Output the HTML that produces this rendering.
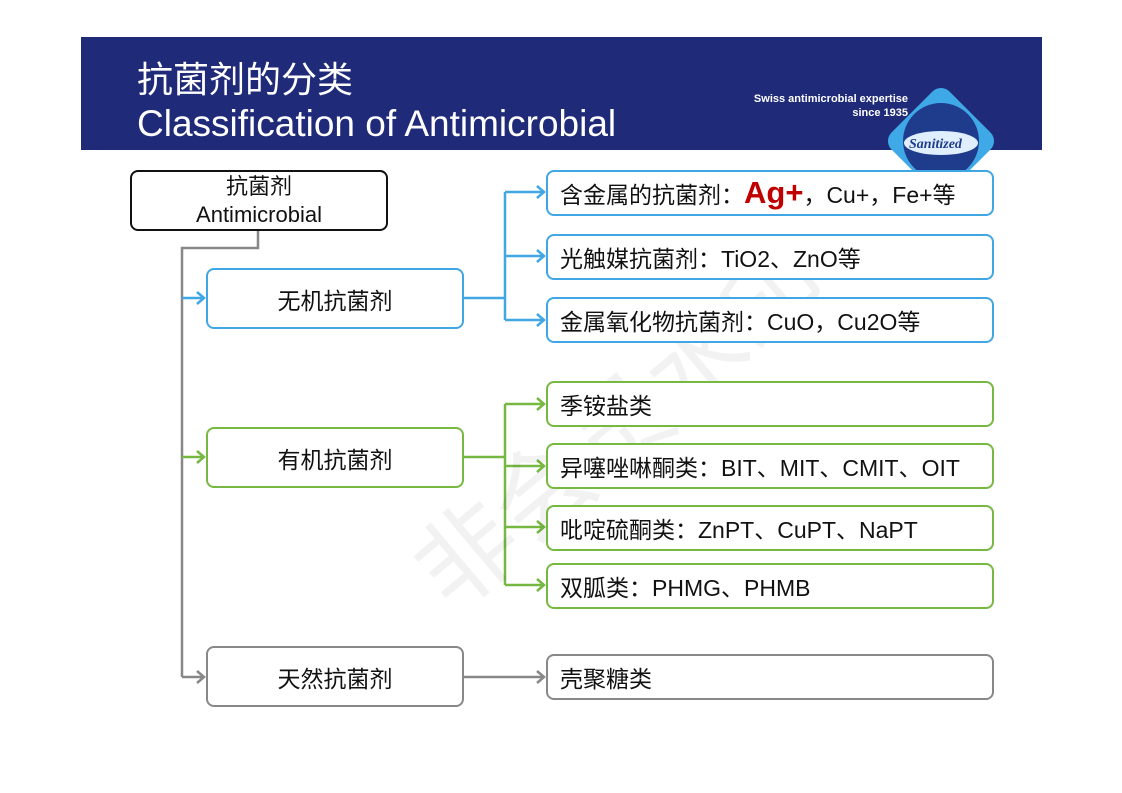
<!DOCTYPE html>
<html><head><meta charset="utf-8"><style>
body{margin:0;width:1122px;height:793px;background:#fff;position:relative;overflow:hidden;font-family:"Liberation Sans","Noto Sans CJK SC",sans-serif;}
.hdr{position:absolute;left:81px;top:37px;width:961px;height:113px;background:#1f2a78;}
.t1{position:absolute;left:137px;top:58px;color:#fff;font-size:36px;line-height:44px;}
.t2{position:absolute;left:137px;top:102px;color:#fff;font-size:37px;line-height:44px;}
.sw{position:absolute;left:700px;top:92px;color:#fff;font-size:11px;font-weight:bold;text-align:right;width:208px;line-height:14px;white-space:nowrap;}
.b{position:absolute;box-sizing:border-box;border-radius:8px;background:#fff;font-size:23px;color:#111;display:flex;align-items:center;white-space:nowrap;}
.bl{border:2.5px solid #41a7e4}.gr{border:2.5px solid #77b843}.gy{border:2.5px solid #888}
.c{justify-content:center}.l{padding-left:12px}
</style></head><body>
<div class="hdr"></div>
<div class="t1">抗菌剂的分类</div>
<div class="t2">Classification of Antimicrobial</div>
<div class="sw">Swiss antimicrobial expertise<br>since 1935</div>
<svg style="position:absolute;left:0;top:0" width="1122" height="793">
<defs><clipPath id="cp"><rect x="0" y="0" width="1122" height="172"/></clipPath></defs>
<g clip-path="url(#cp)">
<rect x="900" y="100" width="82" height="82" rx="12" transform="rotate(45 941 141)" fill="#3fa9e8"/>
<circle cx="941" cy="141" r="38" fill="#1f3c8c"/>
<ellipse cx="941" cy="143" rx="37" ry="12" fill="#dfefff"/>
<text x="909" y="148" font-family="Liberation Serif" font-style="italic" font-weight="bold" font-size="14" fill="#1f3c8c">Sanitized</text>
</g>
<g fill="none" stroke-width="2.5">
<polyline points="258,230 258,248 182,248 182,677" stroke="#888"/>
<g stroke="#41a7e4">
<line x1="182" y1="298" x2="204" y2="298"/><polyline points="197,292 204,298 197,304"/>
<line x1="463" y1="298" x2="505" y2="298"/><line x1="505" y1="192" x2="505" y2="320"/>
<line x1="505" y1="192" x2="544" y2="192"/><polyline points="537,186 544,192 537,198"/>
<line x1="505" y1="256" x2="544" y2="256"/><polyline points="537,250 544,256 537,262"/>
<line x1="505" y1="320" x2="544" y2="320"/><polyline points="537,314 544,320 537,326"/>
</g>
<g stroke="#77b843">
<line x1="182" y1="457" x2="204" y2="457"/><polyline points="197,451 204,457 197,463"/>
<line x1="463" y1="457" x2="505" y2="457"/><line x1="505" y1="404" x2="505" y2="585"/>
<line x1="505" y1="404" x2="544" y2="404"/><polyline points="537,398 544,404 537,410"/>
<line x1="505" y1="466" x2="544" y2="466"/><polyline points="537,460 544,466 537,472"/>
<line x1="505" y1="527" x2="544" y2="527"/><polyline points="537,521 544,527 537,533"/>
<line x1="505" y1="585" x2="544" y2="585"/><polyline points="537,579 544,585 537,591"/>
</g>
<g stroke="#888">
<line x1="182" y1="677" x2="204" y2="677"/><polyline points="197,671 204,677 197,683"/>
<line x1="463" y1="677" x2="544" y2="677"/><polyline points="537,671 544,677 537,683"/>
</g>
</g>
<text x="330" y="520" transform="rotate(-40 520 400)" font-size="100" fill="#000" fill-opacity="0.05" font-family="Noto Sans CJK SC">非会员水印</text>
</svg>
<div class="b c" style="left:130px;top:170px;width:258px;height:61px;border:2.5px solid #111;flex-direction:column;line-height:28px;font-size:22px"><span>抗菌剂</span><span>Antimicrobial</span></div>
<div class="b bl c" style="left:206px;top:268px;width:258px;height:61px">无机抗菌剂</div>
<div class="b gr c" style="left:206px;top:427px;width:258px;height:61px">有机抗菌剂</div>
<div class="b gy c" style="left:206px;top:646px;width:258px;height:61px">天然抗菌剂</div>
<div class="b bl l" style="left:546px;top:170px;width:448px;height:46px">含金属的抗菌剂：<b style="color:#c00000;font-size:31px">Ag+</b>，Cu+，Fe+等</div>
<div class="b bl l" style="left:546px;top:234px;width:448px;height:46px">光触媒抗菌剂：TiO2、ZnO等</div>
<div class="b bl l" style="left:546px;top:297px;width:448px;height:46px">金属氧化物抗菌剂：CuO，Cu2O等</div>
<div class="b gr l" style="left:546px;top:381px;width:448px;height:46px">季铵盐类</div>
<div class="b gr l" style="left:546px;top:443px;width:448px;height:46px">异噻唑啉酮类：BIT、MIT、CMIT、OIT</div>
<div class="b gr l" style="left:546px;top:505px;width:448px;height:46px">吡啶硫酮类：ZnPT、CuPT、NaPT</div>
<div class="b gr l" style="left:546px;top:563px;width:448px;height:46px">双胍类：PHMG、PHMB</div>
<div class="b gy l" style="left:546px;top:654px;width:448px;height:46px">壳聚糖类</div>
</body></html>
